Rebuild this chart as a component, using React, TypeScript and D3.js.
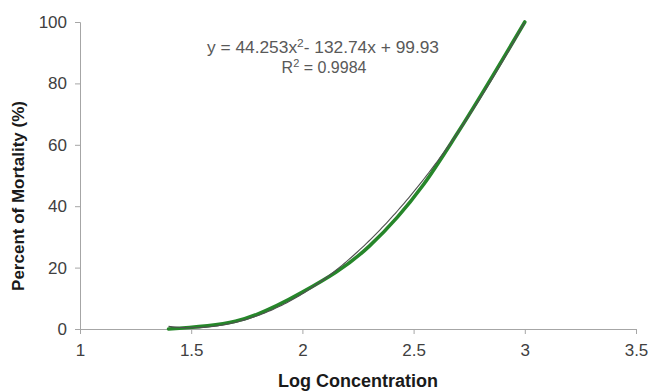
import React, { useEffect, useRef } from "react";
import * as d3 from "d3";

// observed data (log concentration vs % mortality)
const logConc = [1.398, 1.699, 2.0, 2.301, 2.544, 2.699, 3.0];
const mortality = [0, 2.5, 12, 27, 47, 64, 100];

// polynomial trendline shown on the chart
const coefA = 44.253;
const coefB = -132.74;
const coefC = 99.93;
const rSquared = "0.9984";

const xTicks = [1, 1.5, 2, 2.5, 3, 3.5];
const yTicks = [0, 20, 40, 60, 80, 100];

const width = 652;
const height = 391;

const App = () => {
  const ref = useRef<SVGSVGElement | null>(null);

  useEffect(() => {
    const svg = d3.select(ref.current);
    svg.selectAll("*").remove();

    const x = d3.scaleLinear().domain([1, 3.5]).range([80, 636]);
    const y = d3.scaleLinear().domain([0, 100]).range([329, 22]);
    const axisColor = "#a6a6a6";
    const font = "'Liberation Sans', Arial, sans-serif";

    // y axis
    const yAxis = svg
      .append("g")
      .attr("transform", `translate(${x(1)},0)`)
      .call(d3.axisLeft(y).tickValues(yTicks).tickSize(5).tickPadding(8));
    yAxis.select(".domain").attr("stroke", axisColor);
    yAxis.selectAll(".tick line").attr("stroke", axisColor);
    yAxis
      .selectAll(".tick text")
      .attr("fill", "#404040")
      .style("font-family", font)
      .style("font-size", "17px");

    // x axis
    const xAxis = svg
      .append("g")
      .attr("transform", `translate(0,${y(0)})`)
      .call(
        d3
          .axisBottom(x)
          .tickValues(xTicks)
          .tickSize(5)
          .tickPadding(10)
          .tickFormat((d) => String(d))
      );
    xAxis.select(".domain").attr("stroke", axisColor);
    xAxis.selectAll(".tick line").attr("stroke", axisColor);
    xAxis
      .selectAll(".tick text")
      .attr("fill", "#404040")
      .style("font-family", font)
      .style("font-size", "17px");

    // data line
    const pts = logConc.map((v, i) => [v, mortality[i]] as [number, number]);
    const line = d3
      .line<[number, number]>()
      .x((d) => x(d[0]))
      .y((d) => y(d[1]))
      .curve(d3.curveMonotoneX);
    svg
      .append("path")
      .attr("d", line(pts))
      .attr("fill", "none")
      .attr("stroke", "#26862a")
      .attr("stroke-width", 3.6)
      .attr("stroke-linecap", "round");

    // trendline
    const xs = d3.range(logConc[0], logConc[logConc.length - 1] + 0.001, 0.01);
    const trend = xs.map((v) => [v, coefA * v * v + coefB * v + coefC] as [number, number]);
    svg
      .append("path")
      .attr("d", d3.line<[number, number]>().x((d) => x(d[0])).y((d) => y(d[1]))(trend))
      .attr("fill", "none")
      .attr("stroke", "#505050")
      .attr("stroke-width", 1.1);

    // equation
    const eq = svg
      .append("text")
      .attr("x", 323)
      .attr("y", 53)
      .attr("text-anchor", "middle")
      .attr("fill", "#595959")
      .style("font-family", font)
      .style("font-size", "16px")
      .attr("textLength", 232)
      .attr("lengthAdjust", "spacingAndGlyphs");
    eq.append("tspan").text(`y = ${coefA}x`);
    eq.append("tspan").attr("dy", -6).style("font-size", "11px").text("2");
    eq.append("tspan").attr("dy", 6).text(`- ${Math.abs(coefB)}x + ${coefC}`);

    const r2 = svg
      .append("text")
      .attr("x", 324)
      .attr("y", 73)
      .attr("text-anchor", "middle")
      .attr("fill", "#595959")
      .style("font-family", font)
      .style("font-size", "16px");
    r2.append("tspan").text("R");
    r2.append("tspan").attr("dy", -6).style("font-size", "11px").text("2");
    r2.append("tspan").attr("dy", 6).text(` = ${rSquared}`);

    // axis titles
    svg
      .append("text")
      .attr("x", 358)
      .attr("y", 387)
      .attr("text-anchor", "middle")
      .attr("fill", "#1a1a1a")
      .style("font-family", font)
      .style("font-weight", "bold")
      .style("font-size", "18px")
      .text("Log Concentration");

    svg
      .append("text")
      .attr("transform", "translate(24,196) rotate(-90)")
      .attr("text-anchor", "middle")
      .attr("fill", "#1a1a1a")
      .style("font-family", font)
      .style("font-weight", "bold")
      .style("font-size", "17px")
      .text("Percent of Mortality (%)");
  }, []);

  return (
    <svg
      ref={ref}
      width={width}
      height={height}
      style={{ position: "absolute", left: 0, top: 0, background: "#fff" }}
    ></svg>
  );
};

export default App;
